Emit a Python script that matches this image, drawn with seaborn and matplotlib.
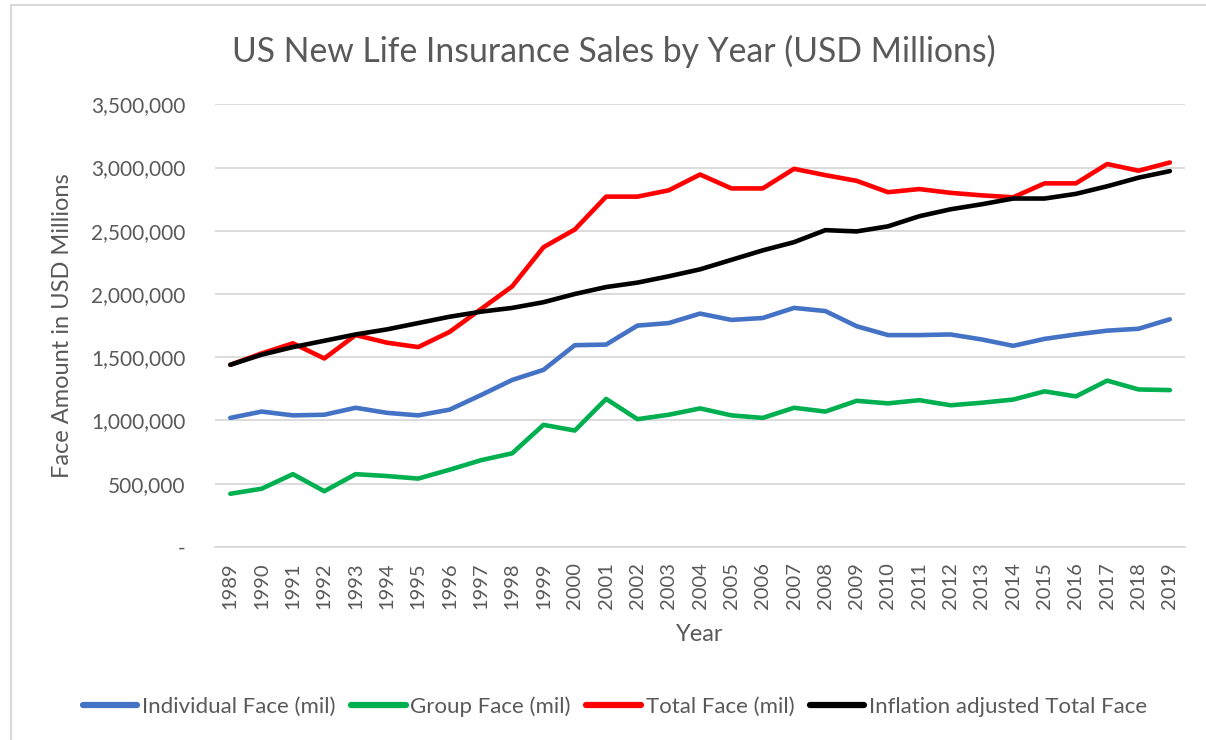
import matplotlib
matplotlib.use("Agg")
from matplotlib import pyplot as plt
from matplotlib.patches import Rectangle
from matplotlib.ticker import FuncFormatter
import seaborn as sns
import pandas as pd

years = list(range(1989, 2020))

individual_face = [1020000, 1070000, 1040000, 1045000, 1100000, 1060000, 1040000, 1085000,
                   1200000, 1320000, 1400000, 1595000, 1600000, 1750000, 1770000, 1845000,
                   1795000, 1810000, 1890000, 1865000, 1745000, 1675000, 1675000, 1680000,
                   1640000, 1590000, 1645000, 1680000, 1710000, 1725000, 1800000]

group_face = [420000, 460000, 575000, 440000, 575000, 560000, 540000, 610000,
              685000, 740000, 965000, 920000, 1170000, 1010000, 1045000, 1095000,
              1040000, 1020000, 1100000, 1070000, 1155000, 1135000, 1160000, 1120000,
              1140000, 1165000, 1230000, 1190000, 1315000, 1245000, 1240000]

total_face = [1440000, 1530000, 1610000, 1490000, 1675000, 1615000, 1580000, 1700000,
              1880000, 2060000, 2370000, 2510000, 2770000, 2770000, 2820000, 2945000,
              2835000, 2835000, 2990000, 2940000, 2895000, 2805000, 2830000, 2800000,
              2780000, 2765000, 2875000, 2875000, 3028000, 2975000, 3040000]

inflation_adjusted = [1440000, 1520000, 1580000, 1630000, 1680000, 1720000, 1770000, 1820000,
                      1860000, 1890000, 1935000, 2000000, 2055000, 2090000, 2140000, 2195000,
                      2270000, 2345000, 2410000, 2505000, 2495000, 2535000, 2615000, 2670000,
                      2710000, 2755000, 2755000, 2792000, 2852000, 2920000, 2972000]

series_names = ["Individual Face (mil)", "Group Face (mil)", "Total Face (mil)",
                "Inflation adjusted Total Face"]
series_colors = ["#4472C4", "#00B050", "#FF0000", "#000000"]

rows = []
for name, vals in zip(series_names, [individual_face, group_face, total_face, inflation_adjusted]):
    for y, v in zip(years, vals):
        rows.append({"Year": y, "Value": v, "Series": name})
df = pd.DataFrame(rows)

sns.set_theme(style="white")
plt.rcParams["font.family"] = ["Lato", "DejaVu Sans"]
text_color = "#595959"
grid_color = "#D9D9D9"

fig = plt.figure(figsize=(12.06, 7.40), dpi=100)
ax = fig.add_axes([0.178, 0.261, 0.805, 0.598])

sns.lineplot(data=df, x="Year", y="Value", hue="Series", hue_order=series_names,
             palette=series_colors, linewidth=3.3, ax=ax, legend=True)

ax.set_xlim(1988.5, 2019.5)
ax.set_ylim(0, 3500000)
ax.set_yticks(range(0, 3500001, 500000))
ax.set_xticks(years)
ax.set_xticklabels([str(y) for y in years], rotation=90)
ax.yaxis.set_major_formatter(FuncFormatter(lambda v, p: "-" if v == 0 else f"{int(v):,}"))

ax.grid(axis="y", color=grid_color, linewidth=1.3)
ax.set_axisbelow(True)
for s in ["top", "right", "left"]:
    ax.spines[s].set_visible(False)
ax.spines["bottom"].set_color(grid_color)
ax.spines["bottom"].set_linewidth(1.3)
ax.tick_params(axis="both", length=0, colors=text_color)
ax.tick_params(axis="y", pad=21, labelsize=15)
ax.tick_params(axis="x", pad=11, labelsize=14.5)

ax.set_xlabel("Year", fontsize=17, color=text_color)
ax.xaxis.set_label_coords(0.5, -0.199)
ax.xaxis.label.set_va("center")
ax.set_ylabel("Face Amount in USD Millions", fontsize=17, color=text_color)
ax.yaxis.set_label_coords(-0.1565, 0.5)
ax.yaxis.label.set_va("center")
fig.text(0.509, 0.93, "US New Life Insurance Sales by Year (USD Millions)",
         ha="center", va="center", fontsize=24.3, color=text_color)

ax.get_legend().remove()
handles, labels = ax.get_legend_handles_labels()
leg = fig.legend(handles, labels, loc="center", bbox_to_anchor=(0.51, 0.045), ncol=4,
                 frameon=False, fontsize=16, handlelength=2.45, handletextpad=0.22,
                 columnspacing=0.7)
for t in leg.get_texts():
    t.set_color(text_color)
for l in leg.get_lines():
    l.set_linewidth(4.5)

fig.patches.append(Rectangle((0.009, -0.01), 1.0, 1.003, transform=fig.transFigure,
                             fill=False, edgecolor="#D9D9D9", linewidth=1.5))

fig.savefig("out.png", dpi=100, facecolor="white")
